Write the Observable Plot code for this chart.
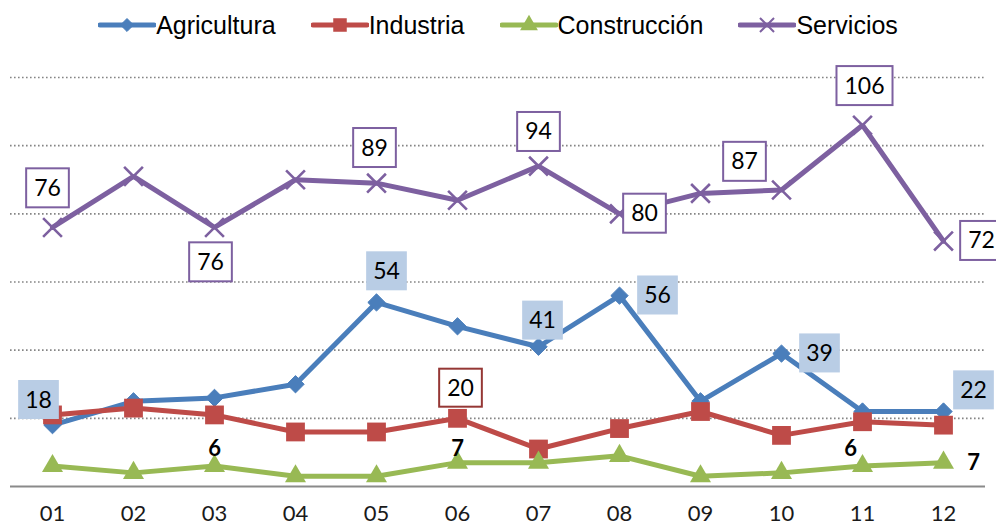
<!DOCTYPE html>
<html>
<head>
<meta charset="utf-8">
<script src="https://cdn.jsdelivr.net/npm/d3@7"></script>
<script src="https://cdn.jsdelivr.net/npm/@observablehq/plot@0.6"></script>
<style>
  html, body { margin: 0; padding: 0; background: #fff; }
  body { width: 996px; height: 526px; overflow: hidden; font-family: Lato, sans-serif; }
  #legend { height: 50px; display: flex; justify-content: center; align-items: center; gap: 35px; padding-left: 0px; box-sizing: border-box; }
  .item { display: flex; align-items: center; font-family: "Liberation Sans", Arial, sans-serif; font-size: 25px; color: #000; }
  .item svg { display: block; margin-right: 0px; }
  #chart svg { display: block; }
</style>
</head>
<body>
<div id="legend"></div>
<div id="chart"></div>
<script>
// ---- data ----
const months = ["01", "02", "03", "04", "05", "06", "07", "08", "09", "10", "11", "12"];
const seriesNames = ["Agricultura", "Industria", "Construcción", "Servicios"];
const agricultura  = [18, 25, 26, 30, 54, 47, 41, 56, 25, 39, 22, 22];
const industria    = [21, 23, 21, 16, 16, 20, 11, 17, 22, 15, 19, 18];
const construccion = [6, 4, 6, 3, 3, 7, 7, 9, 3, 4, 6, 7];
const servicios    = [76, 91, 76, 90, 89, 84, 94, 80, 86, 87, 106, 72];
const gridValues   = [20, 40, 60, 80, 100, 120];

// ---- styles ----
const seriesValues = [agricultura, industria, construccion, servicios];
const style = {
  "Agricultura":  {line: "#4A7EBB", fill: "#4A7EBB", symbol: "diamond2", r: 7.8, sw: 1},
  "Industria":    {line: "#BE4B48", fill: "#BE4B48", symbol: "square", r: 10.6, sw: 0},
  "Construcción": {line: "#98B954", fill: "#98B954", symbol: "triangle", r: 7.8, sw: 0},
  "Servicios":    {line: "#7D60A0", fill: "none", symbol: "times", r: 8.6, sw: 2.6}
};
// label placement offsets (px) relative to the point, per series and month
const labelOffsets = {
  "Agricultura":  {"01": [-14, -25], "05": [10, -31], "07": [4, -26], "08": [38, 0], "10": [38, 0], "12": [30, -21]},
  "Industria":    {"06": [3, -30]},
  "Construcción": {"03": [0, -17], "06": [0, -14], "11": [-12, -17], "12": [30, 0]},
  "Servicios":    {"01": [-5, -39], "03": [-4, 35], "05": [-2, -35], "07": [0, -34], "08": [25, 0], "10": [-37, -28], "11": [2, -39], "12": [38, 0]}
};
const labelClass = {"Agricultura": "lab-agri", "Industria": "lab-ind", "Construcción": "lab-cons", "Servicios": "lab-serv"};

const data = [];
seriesNames.forEach((s, i) => months.forEach((m, j) => data.push({series: s, month: m, value: seriesValues[i][j]})));

// ---- legend ----
const legend = d3.select("#legend");
seriesNames.forEach(s => {
  const st = style[s];
  const it = legend.append("div").attr("class", "item");
  const sv = it.append("svg").attr("width", 58).attr("height", 24);
  sv.append("line").attr("x1", 2).attr("x2", 56).attr("y1", 12).attr("y2", 12)
    .attr("stroke", st.line).attr("stroke-width", 5).attr("stroke-linecap", "round");
  const symMap = {diamond2: d3.symbolDiamond2, square: d3.symbolSquare, triangle: d3.symbolTriangle, times: d3.symbolTimes};
  const scaleR = {diamond2: 0.75, square: 0.72, triangle: 0.85, times: 0.75}[st.symbol];
  const rr = st.r * scaleR;
  sv.append("path").attr("transform", "translate(29,12)")
    .attr("d", d3.symbol(symMap[st.symbol], Math.PI * rr * rr)())
    .attr("fill", st.fill === "none" ? "none" : st.fill)
    .attr("stroke", st.symbol === "times" ? st.line : st.fill)
    .attr("stroke-width", st.symbol === "times" ? 2 : st.sw);
  it.append("span").text(s);
});

// ---- chart ----
const marks = [
  Plot.ruleY(gridValues, {stroke: "#858585", strokeWidth: 1.7, strokeDasharray: "1.6,2.4"}),
  Plot.ruleY([0], {stroke: "#8a8a8a", strokeWidth: 2}),
  Plot.axisX({tickSize: 0, tickPadding: 19, fontSize: 22, label: null, fill: "#1a1a1a"})
];
seriesNames.forEach(s => {
  const st = style[s];
  const d = data.filter(v => v.series === s);
  marks.push(Plot.line(d, {x: "month", y: "value", stroke: st.line, strokeWidth: 5, strokeLinejoin: "miter"}));
  marks.push(Plot.dot(d, {
    x: "month", y: "value", symbol: st.symbol, r: st.r,
    fill: st.fill, stroke: st.symbol === "times" ? st.line : st.fill, strokeWidth: st.sw
  }));
});
seriesNames.forEach(s => {
  const offs = labelOffsets[s];
  Object.keys(offs).forEach(m => {
    const d = data.filter(v => v.series === s && v.month === m);
    const bold = s === "Construcción";
    marks.push(Plot.text(d, {
      x: "month", y: "value", text: v => String(v.value),
      dx: offs[m][0], dy: offs[m][1],
      fontSize: bold ? 22 : 23, fontWeight: bold ? "bold" : "normal",
      fill: "#000", className: labelClass[s]
    }));
  });
});

const svg = Plot.plot({
  width: 996, height: 476,
  marginTop: 27, marginBottom: 40, marginLeft: 10, marginRight: 11,
  x: {type: "point", domain: months, padding: 0.5, label: null},
  y: {domain: [0, 120], axis: null},
  style: {fontFamily: "Lato, sans-serif", background: "#fff", overflow: "visible"},
  marks
});
document.getElementById("chart").append(svg);

// boxes behind label texts
const boxStyles = {
  "lab-serv": {fill: "#fff", stroke: "#7D60A0", sw: 2, h: 39, padX: 8},
  "lab-agri": {fill: "#B9CDE5", stroke: "none", sw: 0, h: 39, padX: 7},
  "lab-ind":  {fill: "#fff", stroke: "#953735", sw: 2, h: 38, padX: 8}
};
for (const [cls, bs] of Object.entries(boxStyles)) {
  svg.querySelectorAll(`.${cls} text`).forEach(t => {
    const b = t.getBBox();
    const w = b.width + 2 * bs.padX;
    const cx = b.x + b.width / 2, cy = b.y + b.height / 2 + 1;
    const r = document.createElementNS("http://www.w3.org/2000/svg", "rect");
    r.setAttribute("x", cx - w / 2);
    r.setAttribute("y", cy - bs.h / 2);
    r.setAttribute("width", w);
    r.setAttribute("height", bs.h);
    r.setAttribute("fill", bs.fill);
    r.setAttribute("stroke", bs.stroke);
    r.setAttribute("stroke-width", bs.sw);
    const tr = t.getAttribute("transform");
    if (tr) r.setAttribute("transform", tr);
    t.parentNode.insertBefore(r, t);
  });
}
</script>
</body>
</html>
